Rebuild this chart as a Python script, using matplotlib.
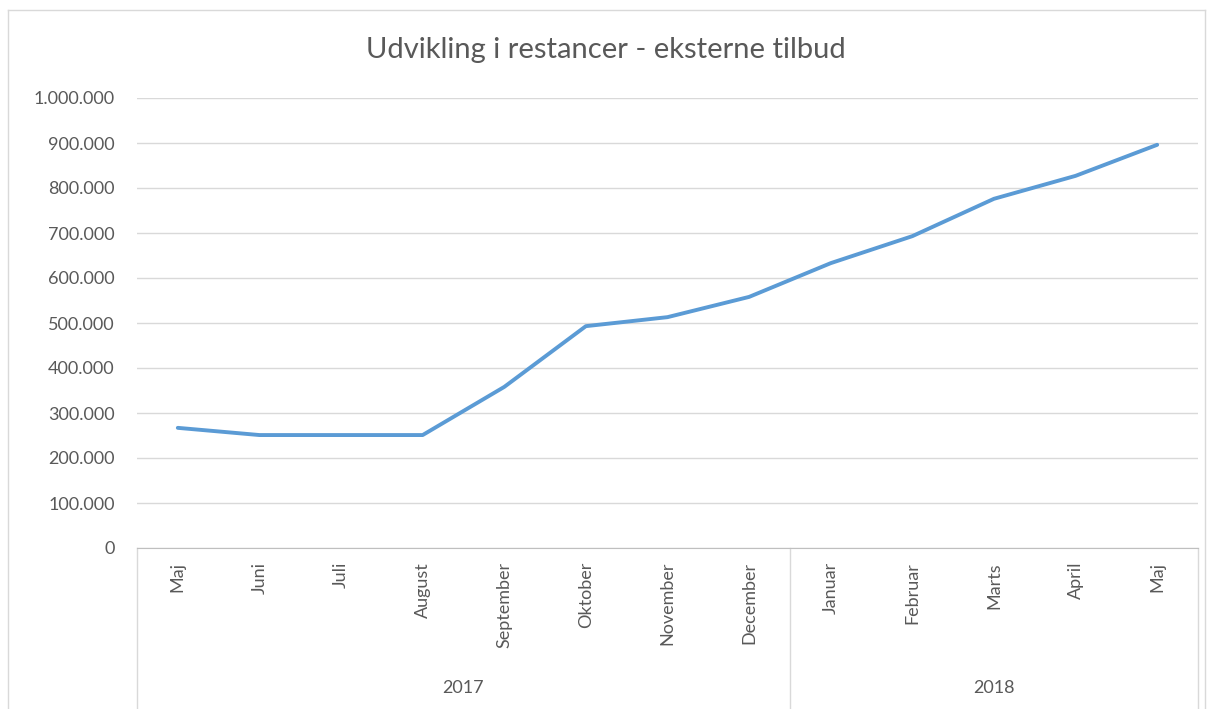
import matplotlib.pyplot as plt
import matplotlib.transforms as mtransforms
from matplotlib.ticker import FuncFormatter
from matplotlib.lines import Line2D

# Data
maaneder = ['Maj', 'Juni', 'Juli', 'August', 'September', 'Oktober', 'November',
            'December', 'Januar', 'Februar', 'Marts', 'April', 'Maj']
aar = ['2017', '2018']
antal_pr_aar = [8, 5]
restancer = [267000, 251000, 251000, 251000, 358000, 493000, 513000,
             558000, 633000, 693000, 776000, 827000, 896000]
y_ticks = list(range(0, 1000001, 100000))

plt.rcParams['font.family'] = ['Lato', 'DejaVu Sans']
tekst_farve = '#595959'
grid_farve = '#d9d9d9'

fig = plt.figure(figsize=(12.11, 7.09), dpi=100)
ax = fig.add_axes([137 / 1211, 1 - 548 / 709, (1198 - 137) / 1211, 450 / 709])

x = list(range(len(maaneder)))
ax.plot(x, restancer, color='#5b9bd5', linewidth=2.8, solid_capstyle='round', zorder=3)

ax.set_xlim(-0.5, len(maaneder) - 0.5)
ax.set_ylim(0, 1000000)
ax.set_yticks(y_ticks)
ax.yaxis.set_major_formatter(FuncFormatter(lambda v, p: f'{int(v):,}'.replace(',', '.')))
ax.grid(axis='y', color=grid_farve, linewidth=1)
ax.set_axisbelow(True)
for s in ['top', 'right', 'left']:
    ax.spines[s].set_visible(False)
ax.spines['bottom'].set_color('#bfbfbf')
ax.tick_params(axis='y', length=0, pad=16, labelsize=13, labelcolor=tekst_farve)

ax.set_xticks(x)
ax.set_xticklabels(maaneder, rotation=90, va='top', ha='center')
ax.tick_params(axis='x', length=0, pad=10, labelsize=13, labelcolor=tekst_farve)

# Gruppe-akse med aar
trans = mtransforms.blended_transform_factory(ax.transData, ax.transAxes)
bund = -161 / 450
start = -0.5
grænser = [start]
for n in antal_pr_aar:
    grænser.append(grænser[-1] + n)
for g in grænser:
    ax.add_line(Line2D([g, g], [0, bund], transform=trans, color=grid_farve,
                       linewidth=1, clip_on=False))
for i, a in enumerate(aar):
    midt = (grænser[i] + grænser[i + 1]) / 2
    ax.text(midt, -140 / 450, a, transform=trans, ha='center', va='center',
            fontsize=13, color=tekst_farve)

fig.text(0.5, 1 - 50 / 709, 'Udvikling i restancer - eksterne tilbud', ha='center',
         va='center', fontsize=21, color=tekst_farve)

# ramme om diagramomraadet
fig.add_artist(Line2D([8 / 1211, 8 / 1211], [0, 1 - 10 / 709], color=grid_farve, linewidth=1))
fig.add_artist(Line2D([8 / 1211, 1205 / 1211], [1 - 10 / 709, 1 - 10 / 709], color=grid_farve, linewidth=1))
fig.add_artist(Line2D([1205 / 1211, 1205 / 1211], [0, 1 - 10 / 709], color=grid_farve, linewidth=1))

fig.savefig('out.png', dpi=100)
